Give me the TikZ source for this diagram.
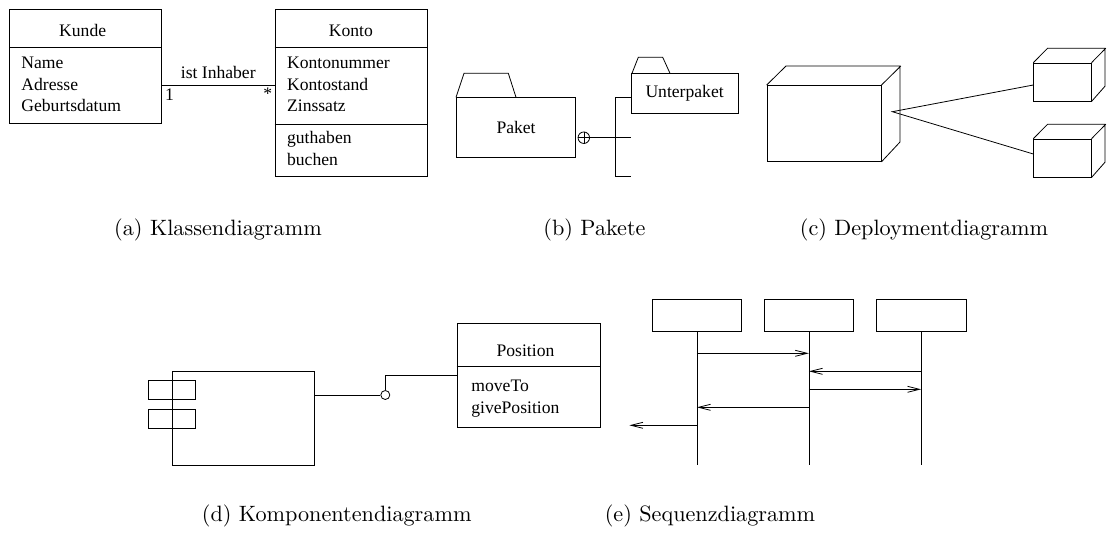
\documentclass[tikz,border=0pt]{standalone}
\usepackage{fontspec}
\newfontfamily\umlfont{Liberation Serif}
\newfontfamily\capfont{lmroman10-regular}[Extension=.otf]
\usetikzlibrary{arrows.meta}
\usetikzlibrary{positioning}

\tikzset{
  umltext/.style={font=\umlfont\fontsize{17.6}{21.7}\selectfont, inner sep=0pt},
  attr/.style={umltext, anchor=base west},
  umlbox/.style={draw, rectangle, inner sep=0pt, anchor=north west, umltext},
  msg/.style={-{Straight Barb[length=12pt,width=6pt]}},
  subcap/.style={font=\capfont\fontsize{22.2}{26}\selectfont, inner sep=0pt}
}

\begin{document}
\begin{tikzpicture}[x=1pt,y=-1pt,line width=0.8pt]
	\useasboundingbox (0,0) rectangle (1108,535);
	% Klassendiagramm
	\node[umlbox, minimum width=152pt, minimum height=114pt] (kunde) at (9,9) {};
	\draw (kunde.north west) ++(0,38.3) -- ++(152,0);
	\node[umltext, anchor=base] (kundename) at (82.7,36.5) {Kunde};
	\foreach \t [count=\i] in {Name,Adresse,Geburtsdatum}
		\node[attr] (kundeattr\i) at (21,46.8+21.7*\i) {\t};
	\node[umlbox, minimum width=152pt, minimum height=167pt] (konto) at (274.7,9) {};
	\draw (konto.north west) ++(0,38.3) -- ++(152,0);
	\draw (konto.north west) ++(0,115) -- ++(152,0);
	\node[umltext, anchor=base] (kontoname) at (350.8,36.5) {Konto};
	\foreach \t [count=\i] in {Kontonummer,Kontostand,Zinssatz}
		\node[attr] (kontoattr\i) at (286.7,46.8+21.7*\i) {\t};
	\foreach \t [count=\i] in {guthaben,buchen}
		\node[attr] (kontoop\i) at (286.7,121.8+21.7*\i) {\t};
	\coordinate (assoc) at (0,85.3);
	\draw (kunde.east |- assoc) node[umltext, below right=4pt] (eins) {1}
		-- node[umltext, above=6pt] (inhaber) {ist Inhaber}
		(konto.west |- assoc) node[umltext, below left=3pt] (viele) {*};
	% Pakete
	\node[umlbox, minimum width=119.3pt, minimum height=59.4pt] (paket) at (456,97.3) {Paket};
	\draw (paket.north west) -- ++(8,-24) -- ++(44.3,0) -- ++(7.7,24);
	\node[umlbox, minimum width=107pt, minimum height=39.4pt] (unterpaket) at (630.7,73.3) {Unterpaket};
	\draw ([xshift=1.3pt]unterpaket.north west) -- ++(6.3,-16) -- ++(24.4,0) -- ++(7.3,16);
	\node[draw, circle, minimum size=11.5pt, inner sep=0pt] (plus) at (583.8,137.7) {};
	\draw[line width=0.6pt] (plus.north) -- (plus.south) (plus.west) -- (plus.east);
	\coordinate (branch) at (615,176);
	\draw (plus.east) -- (plus.east -| unterpaket.west);
	\draw (unterpaket.west |- 0,97.3) -- (branch |- 0,97.3) -- (branch) -- (branch -| unterpaket.west);
	% Deploymentdiagramm
	\node[umlbox, minimum width=114pt, minimum height=76pt] (server) at (766.7,85) {};
	\draw (server.north west) -- ++(19.3,-19) -- ++(114,0) -- ++(0,76) -- (server.south east)
		(server.north east) -- ++(19.3,-19);
	\node[umlbox, minimum width=57.4pt, minimum height=38pt] (clienta) at (1033.3,62.7) {};
	\draw (clienta.north west) -- ++(14.3,-14.5) -- ++(57.4,0) -- ++(0,38) -- (clienta.south east)
		(clienta.north east) -- ++(14.3,-14.5);
	\node[umlbox, minimum width=57.4pt, minimum height=38pt] (clientb) at (1033.3,138.7) {};
	\draw (clientb.north west) -- ++(14.3,-14.5) -- ++(57.4,0) -- ++(0,38) -- (clientb.south east)
		(clientb.north east) -- ++(14.3,-14.5);
	\coordinate (hub) at (892.3,111.7);
	\draw (clienta.west |- 0,85) -- (hub) -- (clientb.west |- 0,154);
	% Komponentendiagramm
	\node[umlbox, minimum width=142pt, minimum height=94.3pt] (komponente) at (172,370.7) {};
	\node[umlbox, minimum width=47.3pt, minimum height=19.3pt] (porta) at (148,380) {};
	\node[umlbox, minimum width=47.3pt, minimum height=19pt] (portb) at (148,408.7) {};
	\node[draw, circle, minimum size=9pt, inner sep=0pt] (lolli) at (385.3,395) {};
	\draw (komponente.east |- lolli) -- (lolli.west);
	\node[umlbox, minimum width=143.3pt, minimum height=103.4pt] (position) at (456.7,323.3) {};
	\draw (position.north west) ++(0,42.7) -- ++(143.3,0);
	\node[umltext, anchor=base] (positionname) at (525.5,356.5) {Position};
	\foreach \t [count=\i] in {moveTo,givePosition}
		\node[attr] (positionop\i) at (471,370.1+21.7*\i) {\t};
	\draw (lolli.north) |- (position.west |- 0,375.3);
	% Sequenzdiagramm
	\node[umlbox, minimum width=89.6pt, minimum height=32pt] (obja) at (651.7,299.3) {};
	\node[umlbox, minimum width=89.6pt, minimum height=32pt] (objb) at (763.7,299.3) {};
	\node[umlbox, minimum width=89.6pt, minimum height=32pt] (objc) at (876,299.3) {};
	\coordinate (lifeend) at (0,465);
	\foreach \o in {obja,objb,objc}
		\draw (\o.south) -- (\o.south |- lifeend);
	\draw[msg] (obja.south |- 0,353.3) -- (objb.south |- 0,353.3);
	\draw[msg] (objc.south |- 0,371.3) -- (objb.south |- 0,371.3);
	\draw[msg] (objb.south |- 0,389.3) -- (objc.south |- 0,389.3);
	\draw[msg] (objb.south |- 0,407.3) -- (obja.south |- 0,407.3);
	\coordinate (ausgang) at (629.3,425.3);
	\draw[msg] (obja.south |- ausgang) -- (ausgang);
	% captions
	\node[subcap] (capa) at (218,229.5) {(a) Klassendiagramm};
	\node[subcap] (capb) at (594.5,229.5) {(b) Pakete};
	\node[subcap] (capc) at (924,229.5) {(c) Deploymentdiagramm};
	\node[subcap] (capd) at (336.7,515.5) {(d) Komponentendiagramm};
	\node[subcap] (cape) at (710,515.5) {(e) Sequenzdiagramm};
\end{tikzpicture}
\end{document}
